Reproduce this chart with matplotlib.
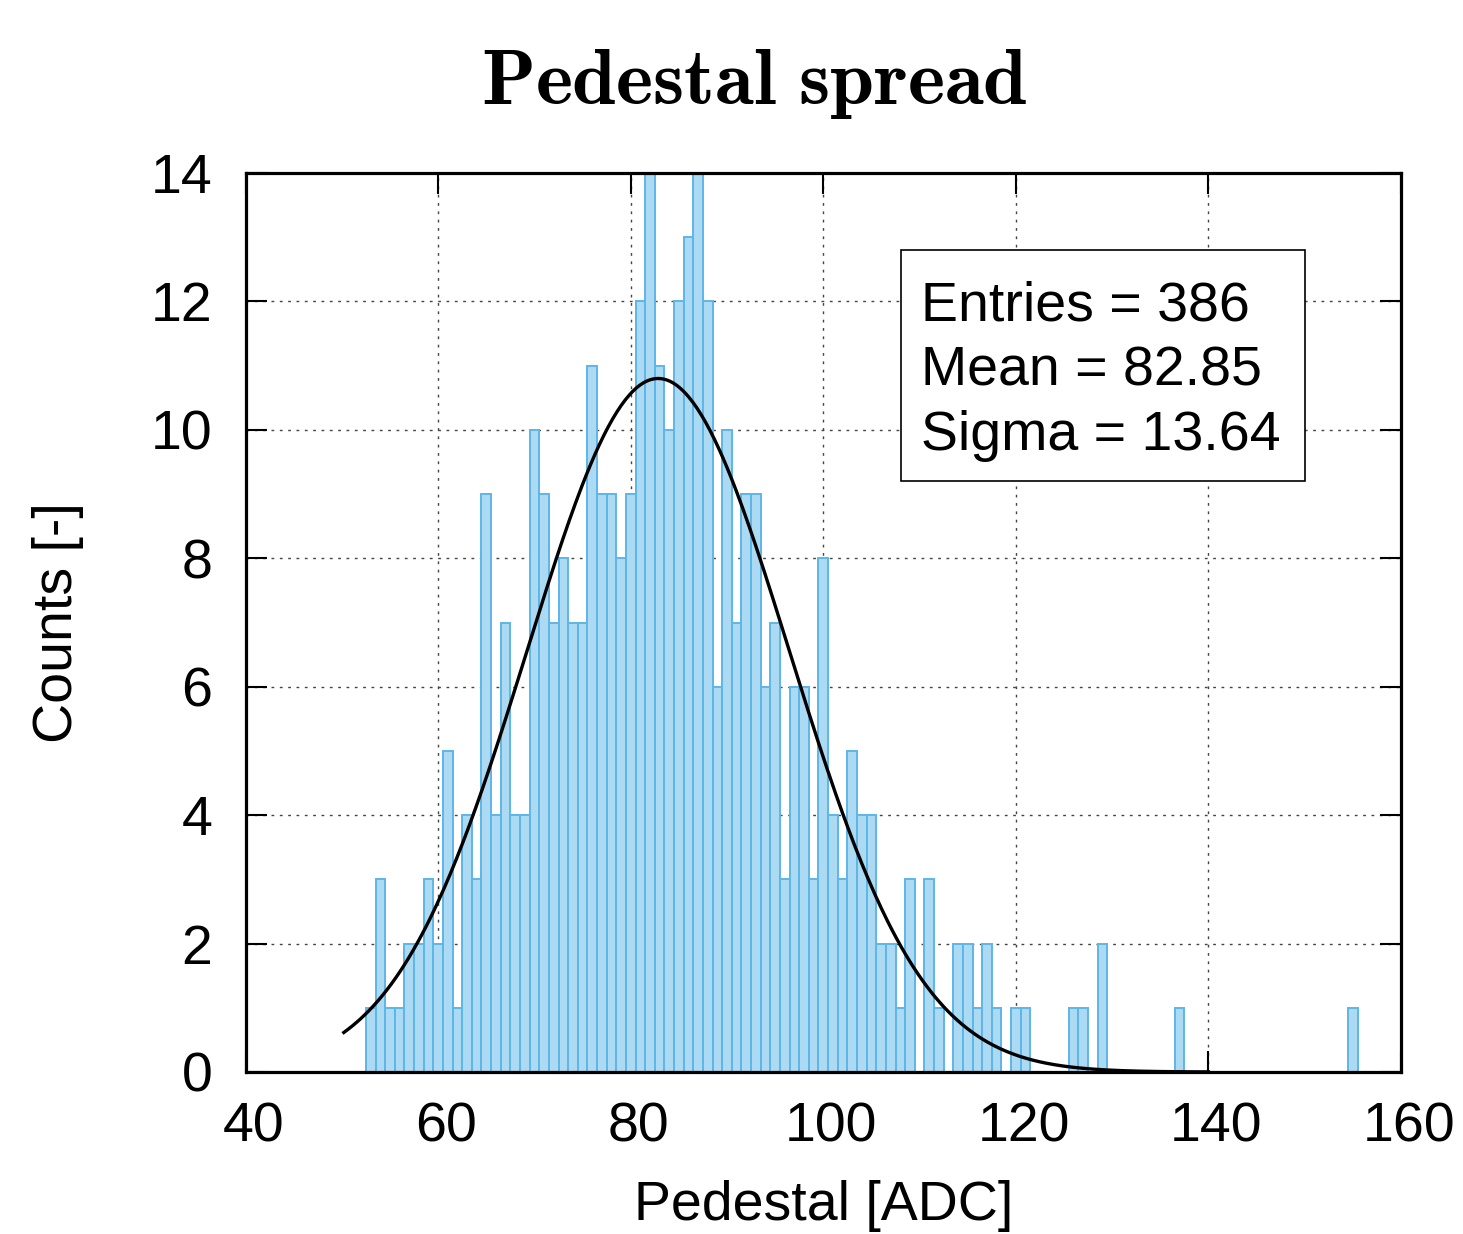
import numpy as np
import matplotlib
matplotlib.use("Agg")
import matplotlib.pyplot as plt
from matplotlib.patches import Rectangle
from matplotlib.transforms import ScaledTranslation

# ---- data ----
bin_centers = [53, 54, 55, 56, 57, 58, 59, 60, 61, 62,
               63, 64, 65, 66, 67, 68, 69, 70, 71, 72,
               73, 74, 75, 76, 77, 78, 79, 80, 81, 82,
               83, 84, 85, 86, 87, 88, 89, 90, 91, 92,
               93, 94, 95, 96, 97, 98, 99, 100, 101, 102,
               103, 104, 105, 106, 107, 108, 109, 110, 111, 112,
               113, 114, 115, 116, 117, 118, 119, 120, 121,
               126, 127, 129, 137, 155]
counts = [1, 3, 1, 1, 2, 2, 3, 2, 5, 1,
          4, 3, 9, 4, 7, 4, 4, 10, 9, 7,
          8, 7, 7, 11, 9, 9, 8, 9, 12, 14,
          11, 10, 12, 13, 14, 12, 6, 10, 7, 9,
          9, 6, 7, 3, 6, 6, 3, 8, 4, 3,
          5, 4, 4, 2, 2, 1, 3, 0, 3, 1,
          0, 2, 2, 1, 2, 1, 0, 1, 1,
          1, 1, 2, 1, 1]
bin_width = 1.0

fit_amplitude = 10.8
fit_mean = 82.85
fit_sigma = 13.64
fit_range = (50.2, 140.0)

stats_lines = ["Entries = 386", "Mean = 82.85", "Sigma = 13.64"]
x_ticks = [40, 60, 80, 100, 120, 140, 160]
y_ticks = [0, 2, 4, 6, 8, 10, 12, 14]

# ---- figure ----
plt.rcParams['mathtext.fontset'] = 'cm'
plt.rcParams['font.family'] = ['Liberation Sans', 'DejaVu Sans']

W, H = 1463, 1234
fig = plt.figure(figsize=(W / 100, H / 100), dpi=100)
ax = fig.add_axes([245.6 / W, 1 - 1072 / H, (1401 - 245.6) / W, (1072 - 173) / H])

ax.bar(bin_centers, counts, width=bin_width, align='center',
       color='#acdaf3', edgecolor='#5db6e8', linewidth=1.4, zorder=2)

xf = np.linspace(fit_range[0], fit_range[1], 400)
yf = fit_amplitude * np.exp(-0.5 * ((xf - fit_mean) / fit_sigma) ** 2)
ax.plot(xf, yf, color='black', linewidth=2.4, zorder=3)

ax.set_xlim(40, 160)
ax.set_ylim(0, 14)
ax.set_xticks(x_ticks)
ax.set_yticks(y_ticks)
ax.grid(True, linestyle=(0, (2, 4)), color='#444444', linewidth=1.0, zorder=1)
ax.set_axisbelow(True)

ax.tick_params(axis='both', which='major', direction='in', length=15, width=1.5,
               top=True, right=True, labelsize=40, color='black')
ax.tick_params(axis='x', pad=21)
ax.tick_params(axis='y', pad=24)
shift = ScaledTranslation(8 / 100, 0, fig.dpi_scale_trans)
for lab in ax.get_xticklabels():
    lab.set_transform(lab.get_transform() + shift)
for s in ax.spines.values():
    s.set_linewidth(2.3)
    s.set_zorder(5)

ax.set_xlabel('Pedestal [ADC]', fontsize=40, labelpad=19)
ax.set_ylabel('Counts [-]', fontsize=40, labelpad=48)

# stats box
box = Rectangle((901 / W, 1 - 481 / H), (1305 - 901) / W, (481 - 250) / H,
                transform=fig.transFigure, facecolor='white', edgecolor='black',
                linewidth=1.2, zorder=10)
fig.patches.append(box)
for i, line in enumerate(stats_lines):
    fig.text(921 / W, 1 - (320 + 65 * i) / H, line, fontsize=40,
             ha='left', va='baseline', zorder=11)

fig.text(754.5 / W, 1 - 104 / H, r'$\mathbf{Pedestal\ spread}$', fontsize=57,
         ha='center', va='baseline')

fig.savefig('out.png', dpi=100)
